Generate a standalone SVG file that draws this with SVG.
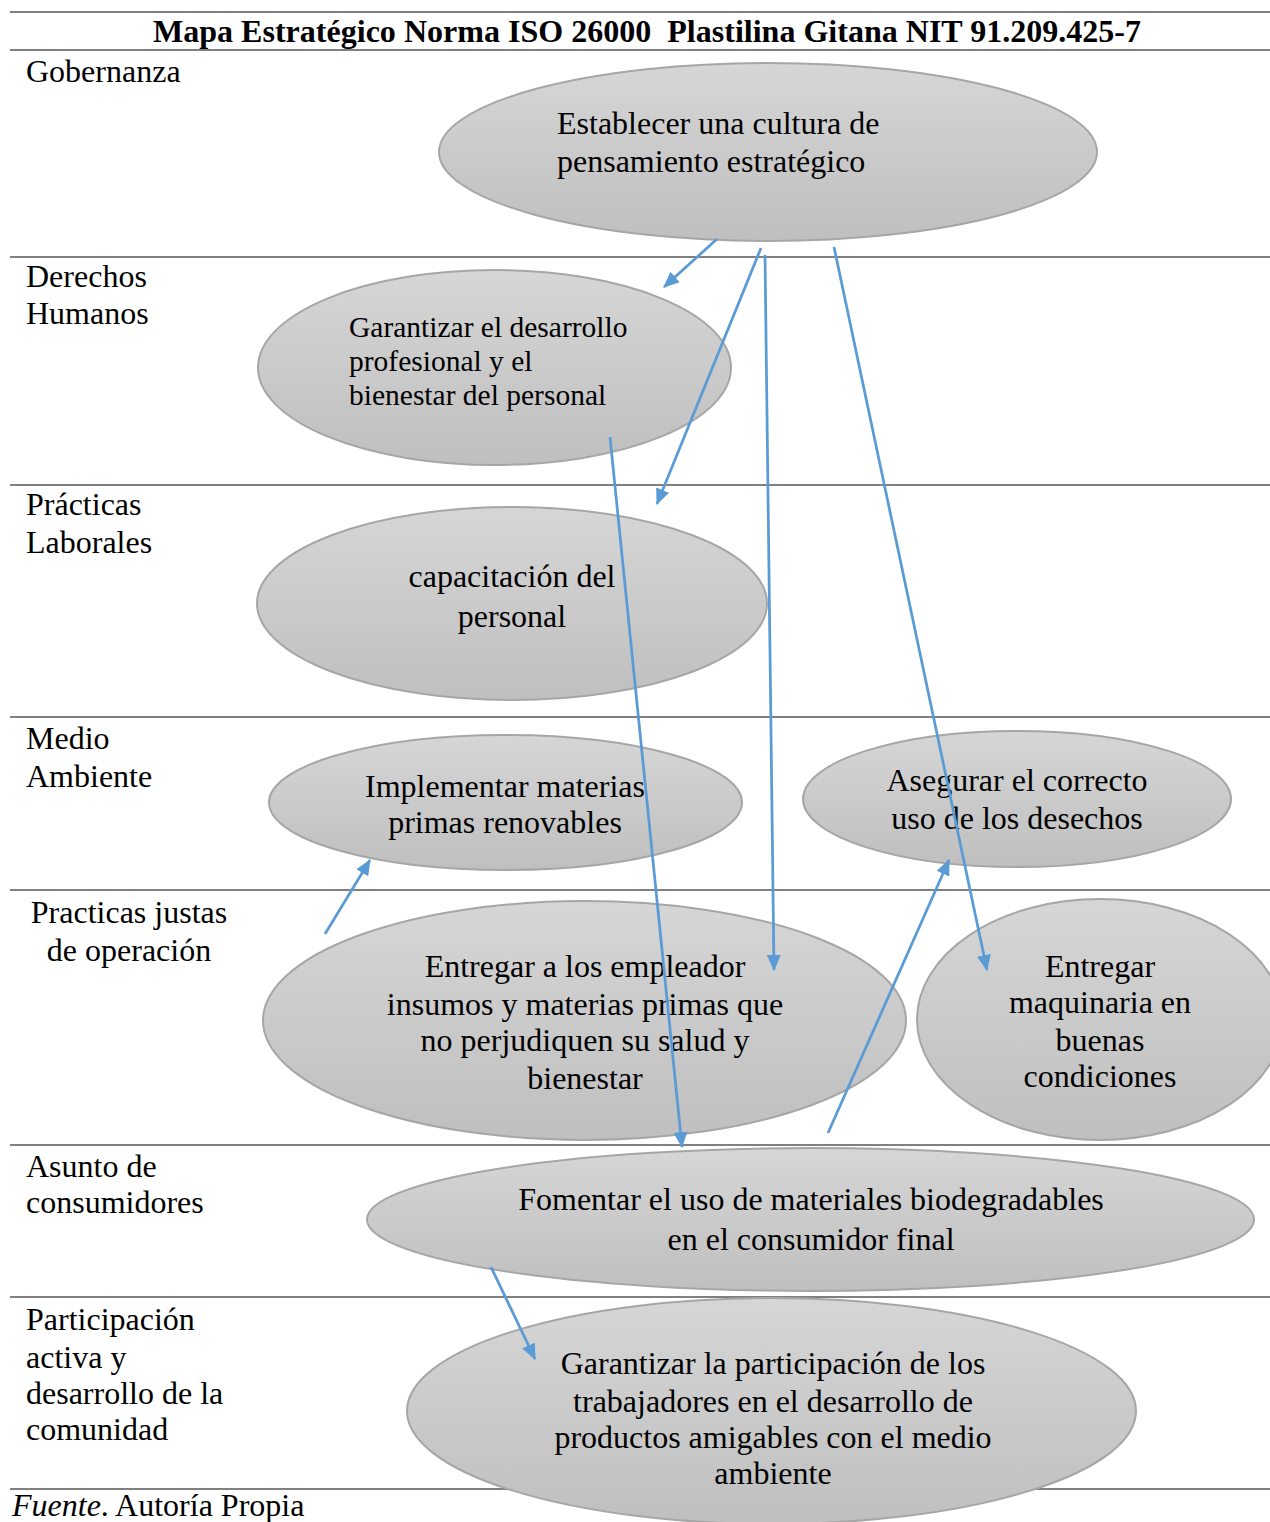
<svg xmlns="http://www.w3.org/2000/svg" width="1270" height="1522" viewBox="0 0 1270 1522">
<style>
.t{font-family:"Liberation Serif","Times New Roman",serif;font-size:32px;fill:#000}
.c{text-anchor:middle}
.s{font-size:29.5px}
.row{stroke:#808080;stroke-width:2}
.node{fill:url(#g);stroke:#a6a6a6;stroke-width:2}
.conn{stroke:#5b9bd5;stroke-width:2.75;fill:none;marker-end:url(#ah)}
</style>
<defs>
<linearGradient id="g" x1="0" y1="0" x2="0" y2="1">
<stop offset="0" stop-color="#d6d6d6"/>
<stop offset="1" stop-color="#bfbfbf"/>
</linearGradient>
<marker id="ah" viewBox="0 0 16 14" refX="15" refY="7" markerWidth="16" markerHeight="14" markerUnits="userSpaceOnUse" orient="auto">
<path d="M0,0 L16,7 L0,14 z" fill="#5b9bd5"/>
</marker>
</defs>
<rect width="1270" height="1522" fill="#fff"/>
<g id="grid">
<line class="row" x1="10" y1="12" x2="1270" y2="12"/>
<line class="row" x1="10" y1="50" x2="1270" y2="50"/>
<line class="row" x1="10" y1="257" x2="1270" y2="257"/>
<line class="row" x1="10" y1="485" x2="1270" y2="485"/>
<line class="row" x1="10" y1="717" x2="1270" y2="717"/>
<line class="row" x1="10" y1="890" x2="1270" y2="890"/>
<line class="row" x1="10" y1="1145" x2="1270" y2="1145"/>
<line class="row" x1="10" y1="1297" x2="1270" y2="1297"/>
<line class="row" x1="10" y1="1489" x2="1270" y2="1489"/>
</g>
<text class="t c" x="647" y="42" font-weight="bold" xml:space="preserve" style="white-space:pre" textLength="988" lengthAdjust="spacingAndGlyphs">Mapa Estratégico Norma ISO 26000  Plastilina Gitana NIT 91.209.425-7</text>
<g id="labels">
<text class="t" x="26" y="82">Gobernanza</text>
<text class="t" x="26" y="287">Derechos</text>
<text class="t" x="26" y="324">Humanos</text>
<text class="t" x="26" y="515">Prácticas</text>
<text class="t" x="26" y="553">Laborales</text>
<text class="t" x="26" y="749">Medio</text>
<text class="t" x="26" y="787">Ambiente</text>
<text class="t c" x="129" y="923">Practicas justas</text>
<text class="t c" x="129" y="961">de operación</text>
<text class="t" x="26" y="1177">Asunto de</text>
<text class="t" x="26" y="1213">consumidores</text>
<text class="t" x="26" y="1330">Participación</text>
<text class="t" x="26" y="1368">activa y</text>
<text class="t" x="26" y="1404">desarrollo de la</text>
<text class="t" x="26" y="1440">comunidad</text>
<text class="t" x="12" y="1516"><tspan font-style="italic">Fuente</tspan>. Autoría Propia</text>
</g>
<g id="n1">
<ellipse class="node" cx="768" cy="152" rx="329" ry="89"/>
<text class="t" x="557" y="134">Establecer una cultura de</text>
<text class="t" x="557" y="172">pensamiento estratégico</text>
</g>
<g id="n2">
<ellipse class="node" cx="494.5" cy="367.5" rx="236.5" ry="97.5"/>
<text class="t s" x="349" y="337">Garantizar el desarrollo</text>
<text class="t s" x="349" y="371">profesional y el</text>
<text class="t s" x="349" y="405">bienestar del personal</text>
</g>
<g id="n3">
<ellipse class="node" cx="512" cy="603.5" rx="255" ry="96.5"/>
<text class="t c" x="512" y="587">capacitación del</text>
<text class="t c" x="512" y="627">personal</text>
</g>
<g id="n4">
<ellipse class="node" cx="505.5" cy="802.5" rx="236.5" ry="67.5"/>
<text class="t c" x="505" y="797">Implementar materias</text>
<text class="t c" x="505" y="833">primas renovables</text>
</g>
<g id="n5">
<ellipse class="node" cx="1017" cy="799" rx="214" ry="68"/>
<text class="t c" x="1017" y="791">Asegurar el correcto</text>
<text class="t c" x="1017" y="829">uso de los desechos</text>
</g>
<g id="n6">
<ellipse class="node" cx="584.5" cy="1020.5" rx="321.5" ry="119.5"/>
<text class="t c" x="585" y="977">Entregar a los empleador</text>
<text class="t c" x="585" y="1015">insumos y materias primas que</text>
<text class="t c" x="585" y="1051">no perjudiquen su salud y</text>
<text class="t c" x="585" y="1089">bienestar</text>
</g>
<g id="n7">
<ellipse class="node" cx="1100" cy="1019.5" rx="183" ry="120.5"/>
<text class="t c" x="1100" y="977">Entregar</text>
<text class="t c" x="1100" y="1013">maquinaria en</text>
<text class="t c" x="1100" y="1051">buenas</text>
<text class="t c" x="1100" y="1087">condiciones</text>
</g>
<g id="n8">
<ellipse class="node" cx="810.5" cy="1219.5" rx="443.5" ry="71.5"/>
<text class="t c" x="811" y="1210">Fomentar el uso de materiales biodegradables</text>
<text class="t c" x="811" y="1250">en el consumidor final</text>
</g>
<g id="n9">
<ellipse class="node" cx="771.5" cy="1411" rx="364.5" ry="113"/>
<text class="t c" x="773" y="1374">Garantizar la participación de los</text>
<text class="t c" x="773" y="1412">trabajadores en el desarrollo de</text>
<text class="t c" x="773" y="1448">productos amigables con el medio</text>
<text class="t c" x="773" y="1484">ambiente</text>
</g>
<g id="connectors">
<line class="conn" x1="717" y1="239" x2="664" y2="287"/>
<line class="conn" x1="761" y1="248" x2="657" y2="504"/>
<line class="conn" x1="765" y1="255" x2="774" y2="970"/>
<line class="conn" x1="834" y1="247" x2="987" y2="970"/>
<line class="conn" x1="610" y1="437" x2="682" y2="1147"/>
<line class="conn" x1="325" y1="934" x2="370" y2="860"/>
<line class="conn" x1="828" y1="1133" x2="949" y2="860"/>
<line class="conn" x1="491" y1="1267" x2="535" y2="1359"/>
</g>
</svg>
